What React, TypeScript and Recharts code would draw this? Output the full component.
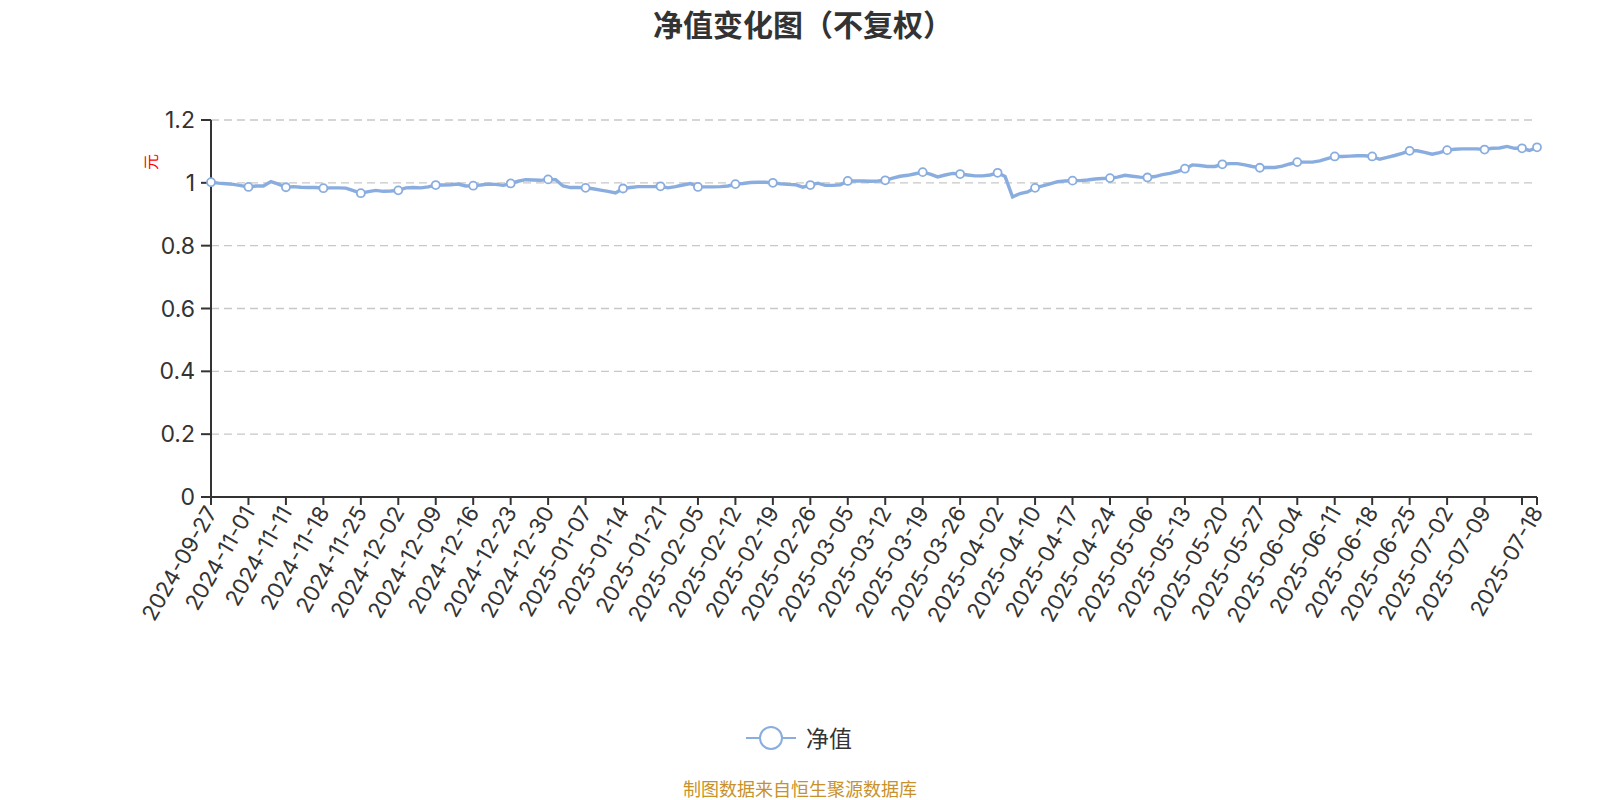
import { CartesianGrid, Line, LineChart, XAxis, YAxis } from "recharts";

const dates = [
  "2024-09-27", "2024-09-30", "2024-10-11", "2024-10-18", "2024-10-25",
  "2024-11-01", "2024-11-04", "2024-11-05", "2024-11-06", "2024-11-07",
  "2024-11-11", "2024-11-12", "2024-11-13", "2024-11-14", "2024-11-15",
  "2024-11-18", "2024-11-19", "2024-11-20", "2024-11-21", "2024-11-22",
  "2024-11-25", "2024-11-26", "2024-11-27", "2024-11-28", "2024-11-29",
  "2024-12-02", "2024-12-03", "2024-12-04", "2024-12-05", "2024-12-06",
  "2024-12-09", "2024-12-10", "2024-12-11", "2024-12-12", "2024-12-13",
  "2024-12-16", "2024-12-17", "2024-12-18", "2024-12-19", "2024-12-20",
  "2024-12-23", "2024-12-24", "2024-12-25", "2024-12-26", "2024-12-27",
  "2024-12-30", "2024-12-31", "2025-01-02", "2025-01-03", "2025-01-06",
  "2025-01-07", "2025-01-08", "2025-01-09", "2025-01-10", "2025-01-13",
  "2025-01-14", "2025-01-15", "2025-01-16", "2025-01-17", "2025-01-20",
  "2025-01-21", "2025-01-22", "2025-01-23", "2025-01-24", "2025-01-27",
  "2025-02-05", "2025-02-06", "2025-02-07", "2025-02-10", "2025-02-11",
  "2025-02-12", "2025-02-13", "2025-02-14", "2025-02-17", "2025-02-18",
  "2025-02-19", "2025-02-20", "2025-02-21", "2025-02-24", "2025-02-25",
  "2025-02-26", "2025-02-27", "2025-02-28", "2025-03-03", "2025-03-04",
  "2025-03-05", "2025-03-06", "2025-03-07", "2025-03-10", "2025-03-11",
  "2025-03-12", "2025-03-13", "2025-03-14", "2025-03-17", "2025-03-18",
  "2025-03-19", "2025-03-20", "2025-03-21", "2025-03-24", "2025-03-25",
  "2025-03-26", "2025-03-27", "2025-03-28", "2025-03-31", "2025-04-01",
  "2025-04-02", "2025-04-03", "2025-04-07", "2025-04-08", "2025-04-09",
  "2025-04-10", "2025-04-11", "2025-04-14", "2025-04-15", "2025-04-16",
  "2025-04-17", "2025-04-18", "2025-04-21", "2025-04-22", "2025-04-23",
  "2025-04-24", "2025-04-25", "2025-04-28", "2025-04-29", "2025-04-30",
  "2025-05-06", "2025-05-07", "2025-05-08", "2025-05-09", "2025-05-12",
  "2025-05-13", "2025-05-14", "2025-05-15", "2025-05-16", "2025-05-19",
  "2025-05-20", "2025-05-21", "2025-05-22", "2025-05-23", "2025-05-26",
  "2025-05-27", "2025-05-28", "2025-05-29", "2025-05-30", "2025-06-03",
  "2025-06-04", "2025-06-05", "2025-06-06", "2025-06-09", "2025-06-10",
  "2025-06-11", "2025-06-12", "2025-06-13", "2025-06-16", "2025-06-17",
  "2025-06-18", "2025-06-19", "2025-06-20", "2025-06-23", "2025-06-24",
  "2025-06-25", "2025-06-26", "2025-06-27", "2025-06-30", "2025-07-01",
  "2025-07-02", "2025-07-03", "2025-07-04", "2025-07-07", "2025-07-08",
  "2025-07-09", "2025-07-10", "2025-07-11", "2025-07-14", "2025-07-15",
  "2025-07-16", "2025-07-17", "2025-07-18",
];

// 单位净值（元）
const nav = [
  1.002, 0.999, 0.997, 0.995, 0.991, 0.987, 0.99, 0.99, 1.004, 0.996,
  0.986, 0.988, 0.986, 0.985, 0.985, 0.983, 0.984, 0.984, 0.983, 0.975,
  0.967, 0.972, 0.976, 0.973, 0.974, 0.976, 0.984, 0.985, 0.984, 0.987,
  0.993, 0.993, 0.994, 0.996, 0.99, 0.991, 0.993, 0.996, 0.995, 0.992,
  0.998, 1.005, 1.01, 1.009, 1.008, 1.011, 1.01, 0.99, 0.985, 0.985,
  0.984, 0.981, 0.977, 0.973, 0.968, 0.982, 0.985, 0.988, 0.988, 0.988,
  0.989, 0.984, 0.988, 0.993, 0.998, 0.987, 0.987, 0.987, 0.988, 0.99,
  0.996, 0.998, 1.001, 1.002, 1.002, 1.0, 0.997, 0.995, 0.994, 0.986,
  0.993, 0.999, 0.992, 0.992, 0.994, 1.006, 1.006, 1.006, 1.005, 1.006,
  1.008, 1.015, 1.021, 1.024, 1.029, 1.034, 1.028, 1.019, 1.025, 1.03,
  1.028, 1.025, 1.022, 1.022, 1.025, 1.032, 1.02, 0.955, 0.966, 0.971,
  0.984, 0.99, 0.997, 1.004, 1.006, 1.007, 1.007, 1.009, 1.012, 1.014,
  1.015, 1.018, 1.024, 1.021, 1.018, 1.017, 1.02, 1.026, 1.03, 1.036,
  1.045, 1.057, 1.055, 1.052, 1.052, 1.059, 1.061, 1.061, 1.057, 1.052,
  1.048, 1.049, 1.049, 1.053, 1.06, 1.066, 1.066, 1.066, 1.07, 1.077,
  1.084, 1.084, 1.085, 1.086, 1.086, 1.084, 1.075, 1.081, 1.087, 1.094,
  1.102, 1.102, 1.097, 1.091, 1.096, 1.104, 1.107, 1.108, 1.108, 1.108,
  1.106, 1.11, 1.111, 1.116, 1.11, 1.11, 1.103, 1.113,
];

const yTicks = [0, 0.2, 0.4, 0.6, 0.8, 1, 1.2];

const data = dates.map((date, i) => ({ date, nav: nav[i] }));
const last = dates.length - 1;
// 每 5 个交易日一个刻度，最后一天单独标出
const xTicks = dates.filter((_, i) => i % 5 === 0 || i === last);

const FONT = '"Microsoft YaHei", "Noto Sans CJK SC", sans-serif';
const NUM_FONT = 'Inter, "Noto Sans CJK SC", sans-serif';
const LINE = "#8aade0";
const AXIS = "#333";

function XTick({ x, y, payload }: any) {
  const i = dates.indexOf(payload.value);
  // 与末尾标签太近的刻度不显示文字
  if (i !== last && last - i < 5) return null;
  return (
    <text
      x={x}
      y={y}
      transform={`rotate(-60 ${x} ${y})`}
      textAnchor="end"
      dominantBaseline="central"
      fontSize={22}
      fill={AXIS}
      fontFamily={NUM_FONT}
    >
      {payload.value}
    </text>
  );
}

function Dot({ cx, cy, index }: any) {
  if (index % 5 !== 0 && index !== last) return <g key={`d${index}`} />;
  return <circle key={`d${index}`} cx={cx} cy={cy} r={4} fill="#fff" stroke={LINE} strokeWidth={1.8} />;
}

export default function App() {
  return (
    <div style={{ position: "absolute", left: 0, top: 0, width: 1600, height: 800, background: "#fff", fontFamily: FONT }}>
      <div style={{ position: "absolute", top: 3, left: 0, width: 1606, textAlign: "center", fontSize: 30, fontWeight: 700, color: AXIS, lineHeight: "40px" }}>
        净值变化图（不复权）
      </div>
      <div style={{ position: "absolute", left: 140, top: 152, width: 20, height: 20, fontSize: 16, color: "#f00", lineHeight: "20px", textAlign: "center", transform: "rotate(-90deg)" }}>
        元
      </div>
      <LineChart width={1600} height={800} data={data} margin={{ top: 120, right: 63, bottom: 173, left: 131 }}>
        <CartesianGrid vertical={false} stroke="#c8c8c8" strokeDasharray="8 5" strokeWidth={1.3} />
        <XAxis
          dataKey="date"
          ticks={xTicks}
          interval={0}
          height={130}
          tickSize={8}
          tickMargin={3}
          axisLine={{ stroke: AXIS, strokeWidth: 2 }}
          tickLine={{ stroke: AXIS, strokeWidth: 2 }}
          tick={<XTick />}
        />
        <YAxis
          width={80}
          domain={[0, 1.2]}
          ticks={yTicks}
          interval={0}
          tickSize={10}
          tickMargin={6}
          axisLine={{ stroke: AXIS, strokeWidth: 2 }}
          tickLine={{ stroke: AXIS, strokeWidth: 2 }}
          tick={{ fontSize: 23, fill: AXIS, fontFamily: NUM_FONT }}
        />
        <Line
          type="linear"
          dataKey="nav"
          stroke={LINE}
          strokeWidth={3.4}
          dot={(p: any) => <Dot {...p} />}
          activeDot={false}
          isAnimationActive={false}
        />
      </LineChart>
      <svg style={{ position: "absolute", left: 740, top: 722 }} width={62} height={32}>
        <line x1={6} y1={16} x2={56} y2={16} stroke={LINE} strokeWidth={2} />
        <circle cx={31} cy={16} r={11} fill="#fff" stroke={LINE} strokeWidth={2} />
      </svg>
      <div style={{ position: "absolute", left: 806, top: 722, fontSize: 23, color: AXIS, lineHeight: "30px" }}>净值</div>
      <div style={{ position: "absolute", left: 0, top: 776, width: 1600, textAlign: "center", fontSize: 18, color: "#c8922b", lineHeight: "24px" }}>
        制图数据来自恒生聚源数据库
      </div>
    </div>
  );
}
